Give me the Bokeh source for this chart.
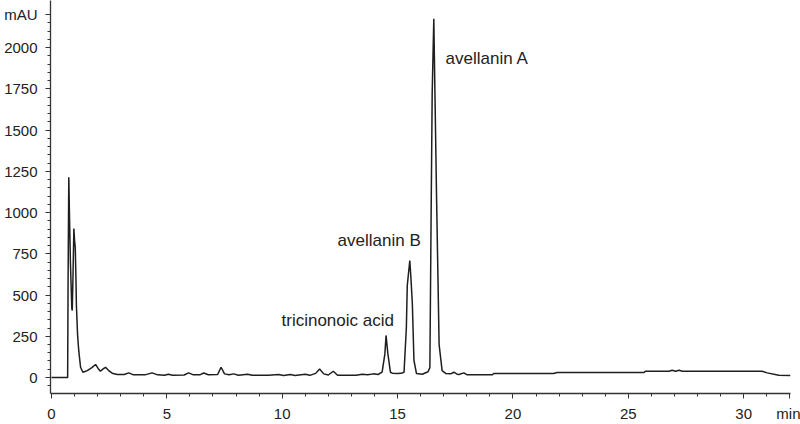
from bokeh.plotting import figure
from bokeh.models import Range1d, Label, FixedTicker, ColumnDataSource
from bokeh.embed import file_html
from bokeh.resources import INLINE

# Chromatogram trace (retention time in min, absorbance in mAU)
time_min = [0.0, 0.70, 0.72, 0.75, 0.78, 0.82, 0.88, 0.90, 0.93, 0.97, 1.00, 1.03,
            1.06, 1.08, 1.13, 1.18, 1.26, 1.36, 1.45, 1.55, 1.75, 1.91, 2.02, 2.12,
            2.24, 2.34, 2.48, 2.63, 2.85, 3.15, 3.35, 3.55, 4.05, 4.36, 4.60, 4.90,
            5.07, 5.25, 5.75, 5.94, 6.15, 6.45, 6.60, 6.80, 7.20, 7.35, 7.50, 7.70,
            7.90, 8.10, 8.50, 8.70, 9.40, 9.85, 10.05, 10.36, 10.55, 11.00, 11.20,
            11.45, 11.62, 11.80, 12.00, 12.21, 12.40, 13.20, 13.47, 13.70, 13.96,
            14.15, 14.33, 14.45, 14.50, 14.58, 14.69, 14.77, 15.00, 15.15, 15.28,
            15.38, 15.42, 15.53, 15.58, 15.64, 15.71, 15.82, 16.07, 16.32, 16.40,
            16.46, 16.50, 16.57, 16.62, 16.69, 16.80, 16.93, 17.10, 17.30, 17.44,
            17.58, 17.66, 17.87, 18.02, 19.10, 19.17, 21.76, 21.92, 25.67, 25.75,
            26.76, 26.90, 27.05, 27.20, 27.34, 30.80, 31.02, 31.52, 32.03]
signal_mau = [0, 0, 600, 1214, 980, 700, 420, 406, 600, 903, 830, 790,
              600, 436, 260, 164, 62, 32, 36, 42, 60, 79, 55, 38,
              52, 62, 42, 26, 18, 18, 28, 16, 16, 28, 16, 14,
              20, 14, 15, 28, 16, 17, 27, 17, 18, 62, 22, 16,
              22, 14, 20, 13, 13, 18, 12, 18, 12, 20, 13,
              25, 52, 22, 15, 38, 14, 14, 20, 16, 22,
              18, 32, 143, 255, 143, 32, 26, 24, 25, 32,
              300, 557, 709, 600, 448, 103, 24, 20, 35, 60,
              1090, 1720, 2174, 1720, 1090, 200, 42, 24, 22, 32,
              20, 18, 28, 16, 16, 24, 24, 30, 30, 38,
              38, 44, 38, 44, 38, 38, 28, 14, 12]

# Peak annotations
peak_names = ["tricinonoic acid", "avellanin B", "avellanin A"]
peak_label_x = [9.97, 12.40, 17.08]
peak_label_y = [345, 830, 1933]

# Axis ticks; the unit names sit at the end of each axis, like in the reference
x_ticks = [0, 5, 10, 15, 20, 25, 30]
y_ticks = [0, 250, 500, 750, 1000, 1250, 1500, 1750, 2000]
x_unit, x_unit_pos = "min", 32.0
y_unit, y_unit_pos = "mAU", 2200

FONT = "Liberation Sans"
INK = "#222222"

p = figure(width=800, height=424, output_backend="svg", toolbar_location=None,
           x_range=Range1d(-0.043, 32.03), y_range=Range1d(-97, 2285),
           min_border_left=50, min_border_right=10, min_border_top=0,
           min_border_bottom=31)
p.outline_line_color = None
p.grid.visible = False
p.background_fill_color = "white"
p.border_fill_color = "white"

src = ColumnDataSource(dict(t=time_min, a=signal_mau))
p.line("t", "a", source=src, line_color="#1e1e1e", line_width=1.5)

for name, lx, ly in zip(peak_names, peak_label_x, peak_label_y):
    p.add_layout(Label(x=lx, y=ly, text=name, text_font=FONT, text_font_size="17px",
                       text_color=INK, text_baseline="middle", text_align="left"))

for ax in (p.xaxis[0], p.yaxis[0]):
    ax.axis_line_color = "#333333"
    ax.axis_line_width = 1.3
    ax.major_tick_line_color = "#333333"
    ax.minor_tick_line_color = "#333333"
    ax.major_tick_in = 0
    ax.minor_tick_in = 0
    ax.major_tick_out = 5
    ax.minor_tick_out = 3
    ax.major_label_text_font = FONT
    ax.major_label_text_font_size = "15px"
    ax.major_label_text_color = INK

p.xaxis[0].ticker = FixedTicker(ticks=x_ticks + [x_unit_pos],
                                minor_ticks=list(range(0, 33)))
p.xaxis[0].major_label_overrides = {x_unit_pos: x_unit}
p.yaxis[0].ticker = FixedTicker(ticks=y_ticks + [y_unit_pos],
                                minor_ticks=list(range(-50, 2250, 50)))
p.yaxis[0].major_label_overrides = {y_unit_pos: y_unit}
p.xaxis[0].major_label_standoff = 6
p.yaxis[0].major_label_standoff = 8

open("out.html", "w").write(file_html(p, INLINE))
